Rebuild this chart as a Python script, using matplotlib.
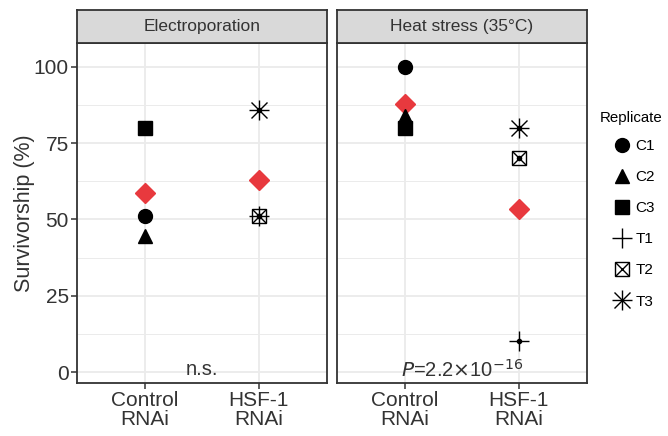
import matplotlib
matplotlib.use("Agg")
import matplotlib.pyplot as plt
from matplotlib.lines import Line2D
from matplotlib.legend_handler import HandlerTuple

plt.rcParams["font.family"] = ["Liberation Sans", "DejaVu Sans"]

# ---- data ----
panels = ["Electroporation", "Heat stress (35°C)"]
groups = ["Control\nRNAi", "HSF-1\nRNAi"]
control_reps = ["C1", "C2", "C3"]
treated_reps = ["T1", "T2", "T3"]
control_electro = [51, 44.5, 80]
control_heat = [100, 84, 80]
hsf1_electro = [51, 51, 86]
hsf1_heat = [10, 70, 80]
mean_electro = [58.5, 62.8]
mean_heat = [87.7, 53.3]
stat_labels = ["n.s.", r"$\it{P}$=2.2$\times$10$^{-16}$"]

GRID = "#EBEBEB"
DARK = "#333333"
RED = "#E8393E"

# replicate -> list of (marker, size, fill) layers
STYLE = {
    "C1": [("o", 10, True)],
    "C2": [("^", 10.5, True)],
    "C3": [("s", 9.5, True)],
    "T1": [("+", 15, False)],
    "T2": [("s", 10.5, False), ("x", 10, False)],
    "T3": [("+", 15, False), ("x", 11, False)],
}


def layers(rep):
    return [Line2D([], [], marker=m, ms=ms, ls="none",
                   mfc="black" if filled else "none", mec="black", mew=1.0)
            for m, ms, filled in STYLE[rep]]


def draw_rep(ax, x, y, rep):
    for m, ms, filled in STYLE[rep]:
        ax.plot([x], [y], marker=m, ms=ms, ls="none",
                mfc="black" if filled else "none", mec="black", mew=1.0, zorder=4)
    if rep.startswith("T"):
        ax.plot([x], [y], marker="o", ms=3, ls="none", color="black", zorder=5)


fig = plt.figure(figsize=(6.68, 4.36), dpi=100)
W, H = 668, 436
lefts = [77, 337]
pw = 250
top, bottom = 43, 383

data = [(control_electro, hsf1_electro, mean_electro),
        (control_heat, hsf1_heat, mean_heat)]

for i, (name, (ctrl, hsf, means)) in enumerate(zip(panels, data)):
    ax = fig.add_axes([lefts[i] / W, 1 - bottom / H, pw / W, (bottom - top) / H])
    ax.set_xlim(0.4, 2.6)
    ax.set_ylim(-3.6, 107.8)
    ax.set_yticks([0, 25, 50, 75, 100])
    ax.set_yticks([12.5, 37.5, 62.5, 87.5], minor=True)
    ax.set_xticks([1, 2])
    ax.set_xticklabels(groups, fontsize=15, color=DARK, linespacing=0.95)
    ax.grid(True, which="major", color=GRID, lw=1.3, zorder=0)
    ax.grid(True, which="minor", axis="y", color=GRID, lw=0.7, zorder=0)
    ax.set_axisbelow(True)
    for s in ax.spines.values():
        s.set_color(DARK)
        s.set_linewidth(1.3)
    ax.tick_params(axis="both", which="major", length=4, color=DARK, width=1.1,
                   labelsize=15, labelcolor=DARK, pad=2)
    ax.tick_params(axis="y", which="minor", length=0)
    if i == 0:
        ax.set_ylabel("Survivorship (%)", fontsize=15.5, color=DARK, labelpad=-1)
    else:
        ax.tick_params(axis="y", which="both", left=False, labelleft=False)

    ax.plot([1, 2], means, marker="D", ms=10.5, ls="none", color=RED, zorder=3)
    for rep, v in zip(control_reps, ctrl):
        draw_rep(ax, 1, v, rep)
    for rep, v in zip(treated_reps, hsf):
        draw_rep(ax, 2, v, rep)
    ax.text(1.5, 0.8, stat_labels[i], ha="center", va="center", fontsize=14.5, color=DARK)

    # facet strip
    sax = fig.add_axes([lefts[i] / W, 1 - top / H, pw / W, 33 / H])
    sax.set_facecolor("#D9D9D9")
    sax.set_xticks([])
    sax.set_yticks([])
    for s in sax.spines.values():
        s.set_color(DARK)
        s.set_linewidth(1.3)
    sax.text(0.5, 0.5, name, ha="center", va="center", fontsize=12.5, color=DARK,
             transform=sax.transAxes)

# legend (title drawn separately so the keys sit indented under it)
fig.text(600 / W, 1 - 118 / H, "Replicate", ha="left", va="center",
         fontsize=10.8, color="black")
reps = control_reps + treated_reps
handles = [tuple(layers(r)) for r in reps]
fig.legend(handles, reps,
           handler_map={tuple: HandlerTuple(ndivide=1, pad=0)},
           loc="upper left", bbox_to_anchor=(611 / W, 1 - 139 / H),
           frameon=False, borderpad=0, borderaxespad=0, fontsize=11,
           labelspacing=1.12, handletextpad=0.1, handlelength=1.5)

fig.savefig("out.png", dpi=100)
